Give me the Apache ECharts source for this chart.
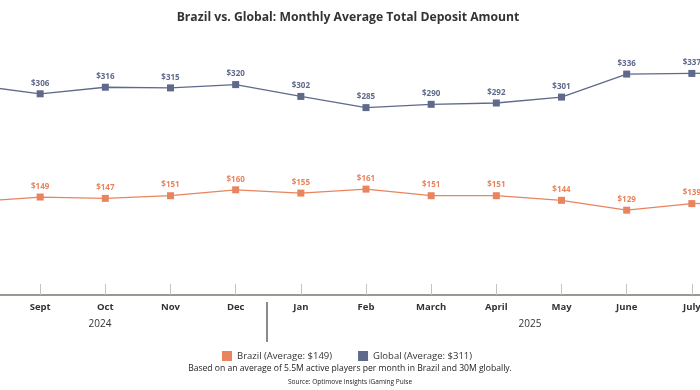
<!DOCTYPE html>
<html>
<head>
<meta charset="utf-8">
<script src="https://cdn.jsdelivr.net/npm/echarts@6/dist/echarts.min.js"></script>
<style>
html,body{margin:0;padding:0;background:#fff;width:700px;height:390px;overflow:hidden;position:relative;}
/* The original view is cropped: the chart canvas extends past both edges of the window */
#c{position:absolute;left:-25px;top:0;width:782px;height:390px;}
</style>
</head>
<body>
<div id="c"></div>
<script>
// Months (first and last points are partially cropped in the original view)
const months = ['Aug', 'Sept', 'Oct', 'Nov', 'Dec', 'Jan', 'Feb', 'March', 'April', 'May', 'June', 'July', 'Aug'];
const brazil = [142, 149, 147, 151, 160, 155, 161, 151, 151, 144, 129, 139, 141];
const globalVals = [319, 306, 316, 315, 320, 302, 285, 290, 292, 301, 336, 337, 338];
const seriesNames = ['Brazil', 'Global'];
const averages = [149, 311];
const years = ['2024', '2025'];
const titleText = 'Brazil vs. Global: Monthly Average Total Deposit Amount';
const footnote = 'Based on an average of 5.5M active players per month in Brazil and 30M globally.';
const sourceText = 'Source: Optimove Insights iGaming Pulse';

const ORANGE = '#E8845E';
const SLATE = '#5F6A8B';
const FONT = '"Open Sans", "Noto Sans", sans-serif';
const OFF = 25; // horizontal offset of the canvas relative to the window

const chart = echarts.init(document.getElementById('c'), null, {renderer: 'canvas'});

function lineSeries(name, data, color) {
  return {
    name: name,
    type: 'line',
    data: data,
    symbol: 'rect',
    symbolSize: 7,
    showAllSymbol: true,
    lineStyle: {color: color, width: 1.3},
    itemStyle: {color: color},
    label: {
      show: true,
      position: 'top',
      distance: 3,
      formatter: p => '$' + p.value,
      color: color,
      fontFamily: FONT,
      fontSize: 8,
      fontWeight: 'bold'
    },
    emphasis: {disabled: true},
    z: 3
  };
}

chart.setOption({
  animation: false,
  grid: {left: 0, right: 0, top: 32, bottom: 95, containLabel: false, outerBoundsMode: 'none'},
  xAxis: {
    type: 'category',
    data: months,
    boundaryGap: false,
    axisLine: {lineStyle: {color: '#9d9792', width: 2}},
    axisTick: {show: true, inside: true, length: 11, alignWithLabel: true, lineStyle: {color: '#c4c4c4', width: 1}},
    axisLabel: {interval: 0, margin: 7, fontFamily: FONT, fontSize: 9.5, fontWeight: 'bold', color: '#333'},
    splitLine: {show: false}
  },
  yAxis: {
    type: 'value',
    min: 0,
    max: 400,
    show: false,
    splitLine: {show: false}
  },
  legend: {
    data: seriesNames,
    top: 346,
    left: 217 + OFF,
    icon: 'rect',
    itemWidth: 10,
    itemHeight: 10,
    itemGap: 26,
    formatter: name => name + ' (Average: $' + averages[seriesNames.indexOf(name)] + ')',
    textStyle: {fontFamily: FONT, fontSize: 9.5, color: '#333'}
  },
  series: [
    lineSeries(seriesNames[0], brazil, ORANGE),
    lineSeries(seriesNames[1], globalVals, SLATE)
  ],
  graphic: [
    {type: 'text', x: 348 + OFF, y: 18, style: {text: titleText, font: 'bold 12.2px ' + FONT, fill: '#333', align: 'center', verticalAlign: 'middle'}},
    {type: 'text', x: 100 + OFF, y: 324, style: {text: years[0], font: '500 10px ' + FONT, fill: '#333', align: 'center', verticalAlign: 'middle'}},
    {type: 'text', x: 530 + OFF, y: 324, style: {text: years[1], font: '500 10px ' + FONT, fill: '#333', align: 'center', verticalAlign: 'middle'}},
    {type: 'line', shape: {x1: 267 + OFF, y1: 302, x2: 267 + OFF, y2: 342}, style: {stroke: '#8a8a8a', lineWidth: 2}},
    {type: 'text', x: 350 + OFF, y: 369, style: {text: footnote, font: '8.6px ' + FONT, fill: '#222', align: 'center', verticalAlign: 'middle'}},
    {type: 'text', x: 350 + OFF, y: 382, style: {text: sourceText, font: '6.5px ' + FONT, fill: '#222', align: 'center', verticalAlign: 'middle'}}
  ]
});
</script>
</body>
</html>
